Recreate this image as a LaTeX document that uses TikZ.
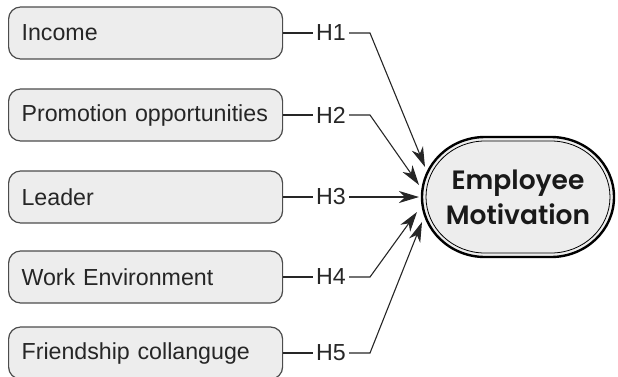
\documentclass[tikz,border=0pt]{standalone}
\usepackage{fontspec}
\setmainfont{Liberation Sans}
\newfontfamily\headfont{Poppins}[BoldFont={Poppins SemiBold}]
\usetikzlibrary{arrows.meta}

\begin{document}
\begin{tikzpicture}[x=1pt,y=-1pt,
    factor/.style={draw=black!70,line width=1.2pt,fill=black!7,rounded corners=12pt,
        minimum height=52pt,text width=248pt,inner xsep=13pt,align=left,anchor=west,
        font=\fontsize{23.2}{27}\selectfont,text=black!85},
    hyp/.style={font=\fontsize{23.2}{27}\selectfont,inner xsep=3pt,inner ysep=2pt,text=black!85},
    link/.style={line width=1.1pt,black!85},
    arr/.style={link,-{Stealth[length=20pt,width=12pt,inset=6pt]}}]
    \useasboundingbox (0,0) rectangle (618,376);

    % factors on the left
    \node[factor] (income) at (8,33) {Income};
    \node[factor] (promo) at (8,115) {Promotion opportunities};
    \node[factor] (leader) at (8,197) {Leader};
    \node[factor] (workenv) at (8,277) {Work Environment};
    \node[factor] (friend) at (8,353) {Friendship collanguge};

    % hypothesis labels
    \node[hyp] (h1) at (331,33) {H1};
    \node[hyp] (h2) at (331,115) {H2};
    \node[hyp] (h3) at (331,197) {H3};
    \node[hyp] (h4) at (331,277) {H4};
    \node[hyp] (h5) at (331,353) {H5};

    % outcome: oval with a double rim
    \coordinate (mc) at (518,197);
    \draw[line width=2.4pt,fill=black!7] ([shift={(-33,-60)}]mc) -- ++(66,0)
        arc[start angle=-90,end angle=90,x radius=63,y radius=60] -- ++(-66,0)
        arc[start angle=90,end angle=270,x radius=63,y radius=60] -- cycle;
    \draw[line width=0.8pt] ([shift={(-33,-56)}]mc) -- ++(66,0)
        arc[start angle=-90,end angle=90,x radius=59,y radius=56] -- ++(-66,0)
        arc[start angle=90,end angle=270,x radius=59,y radius=56] -- cycle;
    \node[align=center,font=\headfont\bfseries\fontsize{26.5}{35}\selectfont,text=black!90] (motiv) at (mc) {Employee\\Motivation};

    % bends and arrow tips
    \coordinate (k1) at (370,33);
    \coordinate (k2) at (370,115);
    \coordinate (k4) at (370,277);
    \coordinate (k5) at (370,353);
    \coordinate (t1) at (425,167);
    \coordinate (t2) at (419,185);
    \coordinate (t3) at (419,197);
    \coordinate (t4) at (417,212);
    \coordinate (t5) at (422,222);

    \draw[link] (income.east) -- (h1.west);
    \draw[link] (promo.east) -- (h2.west);
    \draw[link] (leader.east) -- (h3.west);
    \draw[link] (workenv.east) -- (h4.west);
    \draw[link] (friend.east) -- (h5.west);

    \draw[arr] (h1.east) -- (k1) -- (t1);
    \draw[arr] (h2.east) -- (k2) -- (t2);
    \draw[arr] (h3.east) -- (t3);
    \draw[arr] (h4.east) -- (k4) -- (t4);
    \draw[arr] (h5.east) -- (k5) -- (t5);
\end{tikzpicture}
\end{document}
